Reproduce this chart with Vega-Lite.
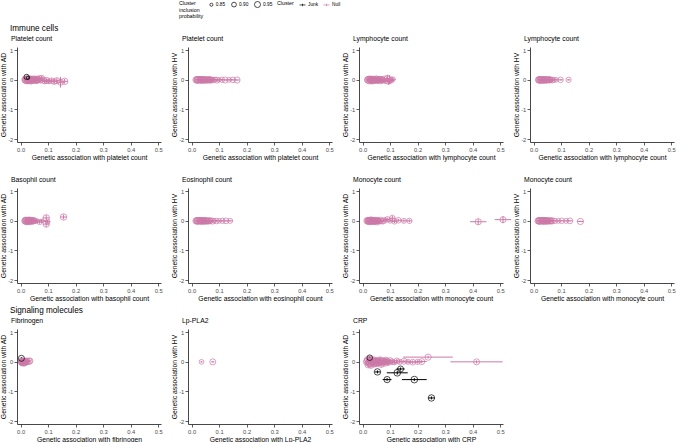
{
"$schema":"https://vega.github.io/schema/vega-lite/v6.json",
"padding":{"left":0,"top":1,"right":1,"bottom":1},
"background":"white",
"data":{"values":[
{"p":"A","x":0.016,"y":0.0,"xe":0.003,"ye":0.03,"s":0.97,"c":"Null"},
{"p":"A","x":0.018,"y":0.03,"xe":0.003,"ye":0.03,"s":0.95,"c":"Null"},
{"p":"A","x":0.020,"y":-0.02,"xe":0.003,"ye":0.03,"s":0.98,"c":"Null"},
{"p":"A","x":0.022,"y":0.02,"xe":0.004,"ye":0.04,"s":0.93,"c":"Null"},
{"p":"A","x":0.025,"y":-0.03,"xe":0.004,"ye":0.03,"s":0.96,"c":"Null"},
{"p":"A","x":0.028,"y":0.01,"xe":0.004,"ye":0.04,"s":0.97,"c":"Null"},
{"p":"A","x":0.031,"y":-0.01,"xe":0.004,"ye":0.04,"s":0.94,"c":"Null"},
{"p":"A","x":0.034,"y":0.04,"xe":0.005,"ye":0.04,"s":0.92,"c":"Null"},
{"p":"A","x":0.037,"y":-0.04,"xe":0.005,"ye":0.04,"s":0.95,"c":"Null"},
{"p":"A","x":0.040,"y":0.01,"xe":0.005,"ye":0.05,"s":0.97,"c":"Null"},
{"p":"A","x":0.044,"y":-0.02,"xe":0.005,"ye":0.04,"s":0.93,"c":"Null"},
{"p":"A","x":0.048,"y":0.03,"xe":0.006,"ye":0.05,"s":0.96,"c":"Null"},
{"p":"A","x":0.052,"y":0.0,"xe":0.006,"ye":0.05,"s":0.91,"c":"Null"},
{"p":"A","x":0.056,"y":-0.03,"xe":0.006,"ye":0.05,"s":0.94,"c":"Null"},
{"p":"A","x":0.060,"y":0.02,"xe":0.007,"ye":0.05,"s":0.97,"c":"Null"},
{"p":"A","x":0.064,"y":-0.01,"xe":0.007,"ye":0.05,"s":0.92,"c":"Null"},
{"p":"A","x":0.068,"y":0.04,"xe":0.007,"ye":0.06,"s":0.95,"c":"Null"},
{"p":"A","x":0.072,"y":-0.03,"xe":0.008,"ye":0.06,"s":0.90,"c":"Null"},
{"p":"A","x":0.077,"y":0.06,"xe":0.008,"ye":0.08,"s":0.93,"c":"Null"},
{"p":"A","x":0.082,"y":-0.01,"xe":0.008,"ye":0.06,"s":0.96,"c":"Null"},
{"p":"A","x":0.088,"y":-0.05,"xe":0.009,"ye":0.07,"s":0.92,"c":"Null"},
{"p":"A","x":0.095,"y":-0.02,"xe":0.009,"ye":0.07,"s":0.95,"c":"Null"},
{"p":"A","x":0.102,"y":-0.05,"xe":0.010,"ye":0.08,"s":0.90,"c":"Null"},
{"p":"A","x":0.112,"y":-0.03,"xe":0.010,"ye":0.08,"s":0.94,"c":"Null"},
{"p":"A","x":0.122,"y":-0.06,"xe":0.011,"ye":0.09,"s":0.93,"c":"Null"},
{"p":"A","x":0.132,"y":-0.03,"xe":0.012,"ye":0.09,"s":0.96,"c":"Null"},
{"p":"A","x":0.145,"y":-0.08,"xe":0.013,"ye":0.18,"s":0.95,"c":"Null"},
{"p":"A","x":0.160,"y":-0.05,"xe":0.012,"ye":0.08,"s":0.97,"c":"Null"},
{"p":"A","x":0.021,"y":0.0,"xe":0.003,"ye":0.03,"s":0.99,"c":"Null"},
{"p":"A","x":0.026,"y":0.02,"xe":0.004,"ye":0.03,"s":0.97,"c":"Null"},
{"p":"A","x":0.029,"y":-0.02,"xe":0.004,"ye":0.03,"s":0.98,"c":"Null"},
{"p":"A","x":0.033,"y":0.0,"xe":0.004,"ye":0.04,"s":0.96,"c":"Null"},
{"p":"A","x":0.036,"y":0.02,"xe":0.005,"ye":0.04,"s":0.97,"c":"Null"},
{"p":"A","x":0.039,"y":-0.02,"xe":0.005,"ye":0.04,"s":0.98,"c":"Null"},
{"p":"A","x":0.042,"y":0.0,"xe":0.005,"ye":0.04,"s":0.96,"c":"Null"},
{"p":"A","x":0.047,"y":-0.01,"xe":0.005,"ye":0.04,"s":0.97,"c":"Null"},
{"p":"A","x":0.051,"y":0.02,"xe":0.006,"ye":0.05,"s":0.95,"c":"Null"},
{"p":"A","x":0.055,"y":0.0,"xe":0.006,"ye":0.05,"s":0.96,"c":"Null"},
{"p":"A","x":0.059,"y":-0.02,"xe":0.006,"ye":0.05,"s":0.94,"c":"Null"},
{"p":"A","x":0.063,"y":0.01,"xe":0.007,"ye":0.05,"s":0.95,"c":"Null"},
{"p":"B","x":0.016,"y":0.0,"xe":0.003,"ye":0.01,"s":0.96,"c":"Null"},
{"p":"B","x":0.019,"y":0.01,"xe":0.003,"ye":0.01,"s":0.93,"c":"Null"},
{"p":"B","x":0.022,"y":-0.01,"xe":0.003,"ye":0.01,"s":0.97,"c":"Null"},
{"p":"B","x":0.025,"y":0.005,"xe":0.004,"ye":0.01,"s":0.95,"c":"Null"},
{"p":"B","x":0.028,"y":-0.005,"xe":0.004,"ye":0.01,"s":0.92,"c":"Null"},
{"p":"B","x":0.031,"y":0.01,"xe":0.004,"ye":0.015,"s":0.96,"c":"Null"},
{"p":"B","x":0.034,"y":-0.01,"xe":0.004,"ye":0.01,"s":0.94,"c":"Null"},
{"p":"B","x":0.037,"y":0.0,"xe":0.005,"ye":0.01,"s":0.98,"c":"Null"},
{"p":"B","x":0.040,"y":0.01,"xe":0.005,"ye":0.015,"s":0.91,"c":"Null"},
{"p":"B","x":0.043,"y":-0.01,"xe":0.005,"ye":0.01,"s":0.95,"c":"Null"},
{"p":"B","x":0.046,"y":0.005,"xe":0.005,"ye":0.015,"s":0.93,"c":"Null"},
{"p":"B","x":0.050,"y":-0.005,"xe":0.006,"ye":0.01,"s":0.97,"c":"Null"},
{"p":"B","x":0.054,"y":0.01,"xe":0.006,"ye":0.015,"s":0.90,"c":"Null"},
{"p":"B","x":0.058,"y":-0.01,"xe":0.006,"ye":0.01,"s":0.94,"c":"Null"},
{"p":"B","x":0.062,"y":0.0,"xe":0.007,"ye":0.015,"s":0.96,"c":"Null"},
{"p":"B","x":0.066,"y":0.01,"xe":0.007,"ye":0.01,"s":0.92,"c":"Null"},
{"p":"B","x":0.070,"y":-0.01,"xe":0.007,"ye":0.015,"s":0.95,"c":"Null"},
{"p":"B","x":0.075,"y":0.005,"xe":0.008,"ye":0.015,"s":0.89,"c":"Null"},
{"p":"B","x":0.080,"y":-0.005,"xe":0.008,"ye":0.015,"s":0.93,"c":"Null"},
{"p":"B","x":0.086,"y":0.01,"xe":0.008,"ye":0.015,"s":0.90,"c":"Null"},
{"p":"B","x":0.092,"y":-0.01,"xe":0.009,"ye":0.015,"s":0.94,"c":"Null"},
{"p":"B","x":0.100,"y":0.0,"xe":0.009,"ye":0.02,"s":0.88,"c":"Null"},
{"p":"B","x":0.110,"y":0.005,"xe":0.010,"ye":0.02,"s":0.92,"c":"Null"},
{"p":"B","x":0.122,"y":-0.005,"xe":0.010,"ye":0.02,"s":0.95,"c":"Null"},
{"p":"B","x":0.136,"y":0.0,"xe":0.011,"ye":0.02,"s":0.90,"c":"Null"},
{"p":"B","x":0.150,"y":0.0,"xe":0.012,"ye":0.02,"s":0.93,"c":"Null"},
{"p":"B","x":0.165,"y":-0.005,"xe":0.010,"ye":0.02,"s":0.96,"c":"Null"},
{"p":"B","x":0.020,"y":0.0,"xe":0.003,"ye":0.01,"s":0.98,"c":"Null"},
{"p":"B","x":0.026,"y":0.0,"xe":0.004,"ye":0.01,"s":0.97,"c":"Null"},
{"p":"B","x":0.032,"y":0.0,"xe":0.004,"ye":0.01,"s":0.98,"c":"Null"},
{"p":"B","x":0.038,"y":0.0,"xe":0.005,"ye":0.01,"s":0.96,"c":"Null"},
{"p":"B","x":0.044,"y":0.0,"xe":0.005,"ye":0.01,"s":0.97,"c":"Null"},
{"p":"B","x":0.049,"y":0.0,"xe":0.005,"ye":0.01,"s":0.95,"c":"Null"},
{"p":"B","x":0.055,"y":0.0,"xe":0.006,"ye":0.01,"s":0.96,"c":"Null"},
{"p":"B","x":0.060,"y":0.0,"xe":0.006,"ye":0.01,"s":0.94,"c":"Null"},
{"p":"B","x":0.067,"y":0.0,"xe":0.007,"ye":0.01,"s":0.95,"c":"Null"},
{"p":"B","x":0.072,"y":0.0,"xe":0.007,"ye":0.01,"s":0.93,"c":"Null"},
{"p":"C","x":0.018,"y":0.0,"xe":0.003,"ye":0.03,"s":0.95,"c":"Null"},
{"p":"C","x":0.021,"y":0.03,"xe":0.003,"ye":0.04,"s":0.93,"c":"Null"},
{"p":"C","x":0.024,"y":-0.03,"xe":0.003,"ye":0.03,"s":0.97,"c":"Null"},
{"p":"C","x":0.027,"y":0.01,"xe":0.004,"ye":0.04,"s":0.94,"c":"Null"},
{"p":"C","x":0.030,"y":-0.02,"xe":0.004,"ye":0.03,"s":0.96,"c":"Null"},
{"p":"C","x":0.033,"y":0.04,"xe":0.004,"ye":0.04,"s":0.92,"c":"Null"},
{"p":"C","x":0.036,"y":-0.04,"xe":0.004,"ye":0.04,"s":0.95,"c":"Null"},
{"p":"C","x":0.039,"y":0.0,"xe":0.005,"ye":0.04,"s":0.97,"c":"Null"},
{"p":"C","x":0.042,"y":0.02,"xe":0.005,"ye":0.05,"s":0.91,"c":"Null"},
{"p":"C","x":0.045,"y":-0.02,"xe":0.005,"ye":0.04,"s":0.94,"c":"Null"},
{"p":"C","x":0.049,"y":0.03,"xe":0.005,"ye":0.05,"s":0.96,"c":"Null"},
{"p":"C","x":0.053,"y":-0.03,"xe":0.006,"ye":0.05,"s":0.92,"c":"Null"},
{"p":"C","x":0.057,"y":0.0,"xe":0.006,"ye":0.05,"s":0.95,"c":"Null"},
{"p":"C","x":0.061,"y":0.04,"xe":0.006,"ye":0.05,"s":0.90,"c":"Null"},
{"p":"C","x":0.065,"y":-0.04,"xe":0.007,"ye":0.05,"s":0.93,"c":"Null"},
{"p":"C","x":0.069,"y":0.01,"xe":0.007,"ye":0.06,"s":0.96,"c":"Null"},
{"p":"C","x":0.074,"y":-0.02,"xe":0.007,"ye":0.06,"s":0.91,"c":"Null"},
{"p":"C","x":0.079,"y":0.03,"xe":0.008,"ye":0.06,"s":0.94,"c":"Null"},
{"p":"C","x":0.084,"y":-0.05,"xe":0.008,"ye":0.07,"s":0.90,"c":"Null"},
{"p":"C","x":0.090,"y":0.05,"xe":0.009,"ye":0.12,"s":0.95,"c":"Null"},
{"p":"C","x":0.094,"y":-0.06,"xe":0.009,"ye":0.10,"s":0.93,"c":"Null"},
{"p":"C","x":0.098,"y":0.01,"xe":0.010,"ye":0.15,"s":0.96,"c":"Null"},
{"p":"C","x":0.104,"y":-0.02,"xe":0.010,"ye":0.08,"s":0.92,"c":"Null"},
{"p":"C","x":0.110,"y":0.02,"xe":0.010,"ye":0.07,"s":0.90,"c":"Null"},
{"p":"C","x":0.020,"y":0.0,"xe":0.003,"ye":0.03,"s":0.98,"c":"Null"},
{"p":"C","x":0.026,"y":0.02,"xe":0.004,"ye":0.03,"s":0.97,"c":"Null"},
{"p":"C","x":0.031,"y":-0.01,"xe":0.004,"ye":0.03,"s":0.98,"c":"Null"},
{"p":"C","x":0.035,"y":0.01,"xe":0.004,"ye":0.04,"s":0.96,"c":"Null"},
{"p":"C","x":0.041,"y":-0.01,"xe":0.005,"ye":0.04,"s":0.97,"c":"Null"},
{"p":"C","x":0.047,"y":0.0,"xe":0.005,"ye":0.04,"s":0.96,"c":"Null"},
{"p":"C","x":0.051,"y":0.01,"xe":0.006,"ye":0.04,"s":0.97,"c":"Null"},
{"p":"C","x":0.055,"y":-0.01,"xe":0.006,"ye":0.05,"s":0.95,"c":"Null"},
{"p":"C","x":0.060,"y":0.0,"xe":0.006,"ye":0.05,"s":0.96,"c":"Null"},
{"p":"C","x":0.066,"y":0.01,"xe":0.007,"ye":0.05,"s":0.94,"c":"Null"},
{"p":"C","x":0.071,"y":-0.01,"xe":0.007,"ye":0.05,"s":0.95,"c":"Null"},
{"p":"D","x":0.018,"y":0.0,"xe":0.003,"ye":0.01,"s":0.95,"c":"Null"},
{"p":"D","x":0.021,"y":0.01,"xe":0.003,"ye":0.01,"s":0.93,"c":"Null"},
{"p":"D","x":0.024,"y":-0.01,"xe":0.003,"ye":0.01,"s":0.97,"c":"Null"},
{"p":"D","x":0.027,"y":0.005,"xe":0.004,"ye":0.01,"s":0.94,"c":"Null"},
{"p":"D","x":0.030,"y":-0.005,"xe":0.004,"ye":0.01,"s":0.96,"c":"Null"},
{"p":"D","x":0.033,"y":0.01,"xe":0.004,"ye":0.015,"s":0.92,"c":"Null"},
{"p":"D","x":0.036,"y":-0.01,"xe":0.004,"ye":0.01,"s":0.95,"c":"Null"},
{"p":"D","x":0.039,"y":0.0,"xe":0.005,"ye":0.01,"s":0.97,"c":"Null"},
{"p":"D","x":0.042,"y":0.01,"xe":0.005,"ye":0.015,"s":0.91,"c":"Null"},
{"p":"D","x":0.046,"y":-0.01,"xe":0.005,"ye":0.01,"s":0.94,"c":"Null"},
{"p":"D","x":0.050,"y":0.005,"xe":0.005,"ye":0.015,"s":0.96,"c":"Null"},
{"p":"D","x":0.054,"y":-0.005,"xe":0.006,"ye":0.015,"s":0.92,"c":"Null"},
{"p":"D","x":0.058,"y":0.0,"xe":0.006,"ye":0.015,"s":0.95,"c":"Null"},
{"p":"D","x":0.063,"y":0.01,"xe":0.006,"ye":0.015,"s":0.90,"c":"Null"},
{"p":"D","x":0.068,"y":-0.01,"xe":0.007,"ye":0.015,"s":0.93,"c":"Null"},
{"p":"D","x":0.074,"y":0.0,"xe":0.007,"ye":0.02,"s":0.91,"c":"Null"},
{"p":"D","x":0.082,"y":0.0,"xe":0.008,"ye":0.02,"s":0.90,"c":"Null"},
{"p":"D","x":0.098,"y":0.0,"xe":0.009,"ye":0.02,"s":0.93,"c":"Null"},
{"p":"D","x":0.127,"y":0.0,"xe":0.006,"ye":0.02,"s":0.92,"c":"Null"},
{"p":"D","x":0.020,"y":0.0,"xe":0.003,"ye":0.01,"s":0.98,"c":"Null"},
{"p":"D","x":0.026,"y":0.0,"xe":0.004,"ye":0.01,"s":0.97,"c":"Null"},
{"p":"D","x":0.032,"y":0.0,"xe":0.004,"ye":0.01,"s":0.98,"c":"Null"},
{"p":"D","x":0.038,"y":0.0,"xe":0.005,"ye":0.01,"s":0.96,"c":"Null"},
{"p":"D","x":0.044,"y":0.0,"xe":0.005,"ye":0.01,"s":0.97,"c":"Null"},
{"p":"D","x":0.048,"y":0.0,"xe":0.005,"ye":0.01,"s":0.95,"c":"Null"},
{"p":"D","x":0.056,"y":0.0,"xe":0.006,"ye":0.01,"s":0.96,"c":"Null"},
{"p":"D","x":0.061,"y":0.0,"xe":0.006,"ye":0.01,"s":0.94,"c":"Null"},
{"p":"E","x":0.016,"y":0.0,"xe":0.003,"ye":0.03,"s":0.97,"c":"Null"},
{"p":"E","x":0.019,"y":0.03,"xe":0.003,"ye":0.03,"s":0.94,"c":"Null"},
{"p":"E","x":0.022,"y":-0.03,"xe":0.003,"ye":0.03,"s":0.96,"c":"Null"},
{"p":"E","x":0.025,"y":0.01,"xe":0.004,"ye":0.03,"s":0.93,"c":"Null"},
{"p":"E","x":0.028,"y":-0.01,"xe":0.004,"ye":0.04,"s":0.97,"c":"Null"},
{"p":"E","x":0.031,"y":0.03,"xe":0.004,"ye":0.04,"s":0.95,"c":"Null"},
{"p":"E","x":0.034,"y":-0.03,"xe":0.004,"ye":0.04,"s":0.92,"c":"Null"},
{"p":"E","x":0.037,"y":0.0,"xe":0.005,"ye":0.04,"s":0.96,"c":"Null"},
{"p":"E","x":0.041,"y":0.02,"xe":0.005,"ye":0.04,"s":0.94,"c":"Null"},
{"p":"E","x":0.045,"y":-0.02,"xe":0.005,"ye":0.05,"s":0.91,"c":"Null"},
{"p":"E","x":0.049,"y":0.01,"xe":0.006,"ye":0.05,"s":0.95,"c":"Null"},
{"p":"E","x":0.054,"y":-0.01,"xe":0.006,"ye":0.05,"s":0.90,"c":"Null"},
{"p":"E","x":0.060,"y":0.0,"xe":0.008,"ye":0.05,"s":0.88,"c":"Null"},
{"p":"E","x":0.069,"y":-0.04,"xe":0.012,"ye":0.06,"s":0.92,"c":"Null"},
{"p":"E","x":0.077,"y":0.0,"xe":0.012,"ye":0.05,"s":0.86,"c":"Null"},
{"p":"E","x":0.093,"y":0.10,"xe":0.012,"ye":0.10,"s":0.97,"c":"Null"},
{"p":"E","x":0.093,"y":-0.11,"xe":0.012,"ye":0.10,"s":0.96,"c":"Null"},
{"p":"E","x":0.098,"y":-0.03,"xe":0.010,"ye":0.06,"s":0.90,"c":"Null"},
{"p":"E","x":0.156,"y":0.13,"xe":0.012,"ye":0.08,"s":0.97,"c":"Null"},
{"p":"E","x":0.018,"y":0.0,"xe":0.003,"ye":0.03,"s":0.98,"c":"Null"},
{"p":"E","x":0.021,"y":0.01,"xe":0.003,"ye":0.03,"s":0.97,"c":"Null"},
{"p":"E","x":0.024,"y":-0.01,"xe":0.003,"ye":0.03,"s":0.98,"c":"Null"},
{"p":"E","x":0.027,"y":0.0,"xe":0.004,"ye":0.03,"s":0.96,"c":"Null"},
{"p":"E","x":0.030,"y":0.01,"xe":0.004,"ye":0.03,"s":0.97,"c":"Null"},
{"p":"E","x":0.033,"y":-0.01,"xe":0.004,"ye":0.04,"s":0.96,"c":"Null"},
{"p":"E","x":0.036,"y":0.01,"xe":0.004,"ye":0.04,"s":0.97,"c":"Null"},
{"p":"E","x":0.040,"y":0.0,"xe":0.005,"ye":0.04,"s":0.95,"c":"Null"},
{"p":"E","x":0.043,"y":-0.01,"xe":0.005,"ye":0.04,"s":0.96,"c":"Null"},
{"p":"E","x":0.047,"y":0.0,"xe":0.005,"ye":0.04,"s":0.94,"c":"Null"},
{"p":"F","x":0.016,"y":0.0,"xe":0.003,"ye":0.01,"s":0.96,"c":"Null"},
{"p":"F","x":0.019,"y":0.01,"xe":0.003,"ye":0.01,"s":0.93,"c":"Null"},
{"p":"F","x":0.022,"y":-0.01,"xe":0.003,"ye":0.01,"s":0.97,"c":"Null"},
{"p":"F","x":0.025,"y":0.005,"xe":0.004,"ye":0.01,"s":0.95,"c":"Null"},
{"p":"F","x":0.028,"y":-0.005,"xe":0.004,"ye":0.01,"s":0.92,"c":"Null"},
{"p":"F","x":0.031,"y":0.01,"xe":0.004,"ye":0.015,"s":0.96,"c":"Null"},
{"p":"F","x":0.034,"y":-0.01,"xe":0.004,"ye":0.01,"s":0.94,"c":"Null"},
{"p":"F","x":0.037,"y":0.0,"xe":0.005,"ye":0.01,"s":0.98,"c":"Null"},
{"p":"F","x":0.040,"y":0.01,"xe":0.005,"ye":0.015,"s":0.91,"c":"Null"},
{"p":"F","x":0.044,"y":-0.01,"xe":0.005,"ye":0.01,"s":0.95,"c":"Null"},
{"p":"F","x":0.048,"y":0.005,"xe":0.005,"ye":0.015,"s":0.93,"c":"Null"},
{"p":"F","x":0.052,"y":-0.005,"xe":0.006,"ye":0.01,"s":0.97,"c":"Null"},
{"p":"F","x":0.056,"y":0.01,"xe":0.006,"ye":0.015,"s":0.90,"c":"Null"},
{"p":"F","x":0.060,"y":-0.01,"xe":0.006,"ye":0.01,"s":0.94,"c":"Null"},
{"p":"F","x":0.065,"y":0.0,"xe":0.007,"ye":0.015,"s":0.96,"c":"Null"},
{"p":"F","x":0.070,"y":0.01,"xe":0.007,"ye":0.01,"s":0.92,"c":"Null"},
{"p":"F","x":0.076,"y":-0.01,"xe":0.007,"ye":0.015,"s":0.95,"c":"Null"},
{"p":"F","x":0.082,"y":0.005,"xe":0.008,"ye":0.015,"s":0.89,"c":"Null"},
{"p":"F","x":0.090,"y":-0.005,"xe":0.008,"ye":0.015,"s":0.93,"c":"Null"},
{"p":"F","x":0.100,"y":0.0,"xe":0.009,"ye":0.02,"s":0.90,"c":"Null"},
{"p":"F","x":0.112,"y":0.0,"xe":0.010,"ye":0.02,"s":0.92,"c":"Null"},
{"p":"F","x":0.125,"y":0.0,"xe":0.010,"ye":0.02,"s":0.94,"c":"Null"},
{"p":"F","x":0.140,"y":0.0,"xe":0.010,"ye":0.02,"s":0.91,"c":"Null"},
{"p":"F","x":0.020,"y":0.0,"xe":0.003,"ye":0.01,"s":0.98,"c":"Null"},
{"p":"F","x":0.026,"y":0.0,"xe":0.004,"ye":0.01,"s":0.97,"c":"Null"},
{"p":"F","x":0.032,"y":0.0,"xe":0.004,"ye":0.01,"s":0.98,"c":"Null"},
{"p":"F","x":0.038,"y":0.0,"xe":0.005,"ye":0.01,"s":0.96,"c":"Null"},
{"p":"F","x":0.042,"y":0.0,"xe":0.005,"ye":0.01,"s":0.97,"c":"Null"},
{"p":"F","x":0.046,"y":0.0,"xe":0.005,"ye":0.01,"s":0.95,"c":"Null"},
{"p":"F","x":0.050,"y":0.0,"xe":0.006,"ye":0.01,"s":0.96,"c":"Null"},
{"p":"F","x":0.054,"y":0.0,"xe":0.006,"ye":0.01,"s":0.94,"c":"Null"},
{"p":"F","x":0.058,"y":0.0,"xe":0.006,"ye":0.01,"s":0.95,"c":"Null"},
{"p":"F","x":0.063,"y":0.0,"xe":0.007,"ye":0.01,"s":0.93,"c":"Null"},
{"p":"G","x":0.016,"y":0.0,"xe":0.003,"ye":0.03,"s":0.96,"c":"Null"},
{"p":"G","x":0.019,"y":0.02,"xe":0.003,"ye":0.03,"s":0.93,"c":"Null"},
{"p":"G","x":0.022,"y":-0.02,"xe":0.003,"ye":0.03,"s":0.97,"c":"Null"},
{"p":"G","x":0.025,"y":0.01,"xe":0.004,"ye":0.03,"s":0.95,"c":"Null"},
{"p":"G","x":0.028,"y":-0.03,"xe":0.004,"ye":0.04,"s":0.92,"c":"Null"},
{"p":"G","x":0.031,"y":0.03,"xe":0.004,"ye":0.04,"s":0.96,"c":"Null"},
{"p":"G","x":0.034,"y":-0.01,"xe":0.004,"ye":0.04,"s":0.94,"c":"Null"},
{"p":"G","x":0.037,"y":0.0,"xe":0.005,"ye":0.04,"s":0.98,"c":"Null"},
{"p":"G","x":0.040,"y":0.02,"xe":0.005,"ye":0.04,"s":0.91,"c":"Null"},
{"p":"G","x":0.044,"y":-0.02,"xe":0.005,"ye":0.04,"s":0.95,"c":"Null"},
{"p":"G","x":0.048,"y":0.03,"xe":0.005,"ye":0.05,"s":0.93,"c":"Null"},
{"p":"G","x":0.052,"y":-0.03,"xe":0.006,"ye":0.05,"s":0.97,"c":"Null"},
{"p":"G","x":0.056,"y":0.01,"xe":0.006,"ye":0.05,"s":0.90,"c":"Null"},
{"p":"G","x":0.060,"y":-0.01,"xe":0.006,"ye":0.05,"s":0.94,"c":"Null"},
{"p":"G","x":0.065,"y":0.02,"xe":0.007,"ye":0.05,"s":0.96,"c":"Null"},
{"p":"G","x":0.070,"y":-0.02,"xe":0.007,"ye":0.05,"s":0.92,"c":"Null"},
{"p":"G","x":0.076,"y":0.0,"xe":0.007,"ye":0.05,"s":0.95,"c":"Null"},
{"p":"G","x":0.082,"y":0.03,"xe":0.008,"ye":0.06,"s":0.89,"c":"Null"},
{"p":"G","x":0.090,"y":0.05,"xe":0.008,"ye":0.06,"s":0.93,"c":"Null"},
{"p":"G","x":0.100,"y":0.0,"xe":0.009,"ye":0.05,"s":0.90,"c":"Null"},
{"p":"G","x":0.108,"y":0.09,"xe":0.010,"ye":0.08,"s":0.94,"c":"Null"},
{"p":"G","x":0.116,"y":-0.02,"xe":0.010,"ye":0.06,"s":0.92,"c":"Null"},
{"p":"G","x":0.130,"y":0.02,"xe":0.010,"ye":0.05,"s":0.93,"c":"Null"},
{"p":"G","x":0.150,"y":0.0,"xe":0.012,"ye":0.05,"s":0.91,"c":"Null"},
{"p":"G","x":0.170,"y":0.0,"xe":0.010,"ye":0.05,"s":0.92,"c":"Null"},
{"p":"G","x":0.420,"y":-0.03,"xe":0.030,"ye":0.10,"s":0.96,"c":"Null"},
{"p":"G","x":0.510,"y":0.04,"xe":0.030,"ye":0.12,"s":0.95,"c":"Null"},
{"p":"G","x":0.020,"y":0.0,"xe":0.003,"ye":0.03,"s":0.98,"c":"Null"},
{"p":"G","x":0.024,"y":0.01,"xe":0.003,"ye":0.03,"s":0.97,"c":"Null"},
{"p":"G","x":0.027,"y":-0.01,"xe":0.004,"ye":0.03,"s":0.98,"c":"Null"},
{"p":"G","x":0.030,"y":0.0,"xe":0.004,"ye":0.03,"s":0.96,"c":"Null"},
{"p":"G","x":0.033,"y":0.01,"xe":0.004,"ye":0.04,"s":0.97,"c":"Null"},
{"p":"G","x":0.036,"y":-0.01,"xe":0.004,"ye":0.04,"s":0.96,"c":"Null"},
{"p":"G","x":0.039,"y":0.0,"xe":0.005,"ye":0.04,"s":0.97,"c":"Null"},
{"p":"G","x":0.042,"y":0.01,"xe":0.005,"ye":0.04,"s":0.95,"c":"Null"},
{"p":"G","x":0.046,"y":-0.01,"xe":0.005,"ye":0.04,"s":0.96,"c":"Null"},
{"p":"G","x":0.050,"y":0.0,"xe":0.006,"ye":0.04,"s":0.94,"c":"Null"},
{"p":"G","x":0.054,"y":0.01,"xe":0.006,"ye":0.05,"s":0.95,"c":"Null"},
{"p":"G","x":0.058,"y":0.0,"xe":0.006,"ye":0.05,"s":0.93,"c":"Null"},
{"p":"H","x":0.016,"y":0.0,"xe":0.003,"ye":0.01,"s":0.96,"c":"Null"},
{"p":"H","x":0.019,"y":0.01,"xe":0.003,"ye":0.01,"s":0.93,"c":"Null"},
{"p":"H","x":0.022,"y":-0.01,"xe":0.003,"ye":0.01,"s":0.97,"c":"Null"},
{"p":"H","x":0.025,"y":0.005,"xe":0.004,"ye":0.01,"s":0.95,"c":"Null"},
{"p":"H","x":0.028,"y":-0.005,"xe":0.004,"ye":0.01,"s":0.92,"c":"Null"},
{"p":"H","x":0.031,"y":0.01,"xe":0.004,"ye":0.015,"s":0.96,"c":"Null"},
{"p":"H","x":0.034,"y":-0.01,"xe":0.004,"ye":0.01,"s":0.94,"c":"Null"},
{"p":"H","x":0.037,"y":0.0,"xe":0.005,"ye":0.01,"s":0.98,"c":"Null"},
{"p":"H","x":0.040,"y":0.01,"xe":0.005,"ye":0.015,"s":0.91,"c":"Null"},
{"p":"H","x":0.044,"y":-0.01,"xe":0.005,"ye":0.01,"s":0.95,"c":"Null"},
{"p":"H","x":0.048,"y":0.005,"xe":0.005,"ye":0.015,"s":0.93,"c":"Null"},
{"p":"H","x":0.052,"y":-0.005,"xe":0.006,"ye":0.01,"s":0.97,"c":"Null"},
{"p":"H","x":0.057,"y":0.01,"xe":0.006,"ye":0.015,"s":0.90,"c":"Null"},
{"p":"H","x":0.062,"y":-0.01,"xe":0.006,"ye":0.01,"s":0.94,"c":"Null"},
{"p":"H","x":0.068,"y":0.0,"xe":0.007,"ye":0.015,"s":0.96,"c":"Null"},
{"p":"H","x":0.078,"y":0.0,"xe":0.007,"ye":0.015,"s":0.92,"c":"Null"},
{"p":"H","x":0.090,"y":0.0,"xe":0.008,"ye":0.02,"s":0.90,"c":"Null"},
{"p":"H","x":0.102,"y":0.0,"xe":0.009,"ye":0.02,"s":0.93,"c":"Null"},
{"p":"H","x":0.118,"y":0.0,"xe":0.010,"ye":0.02,"s":0.91,"c":"Null"},
{"p":"H","x":0.132,"y":0.0,"xe":0.010,"ye":0.02,"s":0.94,"c":"Null"},
{"p":"H","x":0.170,"y":-0.02,"xe":0.012,"ye":0.02,"s":0.96,"c":"Null"},
{"p":"H","x":0.020,"y":0.0,"xe":0.003,"ye":0.01,"s":0.98,"c":"Null"},
{"p":"H","x":0.026,"y":0.0,"xe":0.004,"ye":0.01,"s":0.97,"c":"Null"},
{"p":"H","x":0.032,"y":0.0,"xe":0.004,"ye":0.01,"s":0.98,"c":"Null"},
{"p":"H","x":0.038,"y":0.0,"xe":0.005,"ye":0.01,"s":0.96,"c":"Null"},
{"p":"H","x":0.042,"y":0.0,"xe":0.005,"ye":0.01,"s":0.97,"c":"Null"},
{"p":"H","x":0.046,"y":0.0,"xe":0.005,"ye":0.01,"s":0.95,"c":"Null"},
{"p":"H","x":0.050,"y":0.0,"xe":0.006,"ye":0.01,"s":0.96,"c":"Null"},
{"p":"H","x":0.055,"y":0.0,"xe":0.006,"ye":0.01,"s":0.94,"c":"Null"},
{"p":"H","x":0.060,"y":0.0,"xe":0.006,"ye":0.01,"s":0.95,"c":"Null"},
{"p":"H","x":0.065,"y":0.0,"xe":0.007,"ye":0.01,"s":0.93,"c":"Null"},
{"p":"I","x":0.003,"y":0.0,"xe":0.002,"ye":0.03,"s":0.95,"c":"Null"},
{"p":"I","x":0.005,"y":-0.03,"xe":0.002,"ye":0.03,"s":0.97,"c":"Null"},
{"p":"I","x":0.007,"y":0.03,"xe":0.002,"ye":0.03,"s":0.93,"c":"Null"},
{"p":"I","x":0.009,"y":-0.01,"xe":0.003,"ye":0.04,"s":0.96,"c":"Null"},
{"p":"I","x":0.011,"y":0.02,"xe":0.003,"ye":0.04,"s":0.94,"c":"Null"},
{"p":"I","x":0.013,"y":-0.04,"xe":0.003,"ye":0.04,"s":0.97,"c":"Null"},
{"p":"I","x":0.015,"y":0.01,"xe":0.003,"ye":0.04,"s":0.95,"c":"Null"},
{"p":"I","x":0.018,"y":-0.02,"xe":0.004,"ye":0.04,"s":0.92,"c":"Null"},
{"p":"I","x":0.021,"y":0.03,"xe":0.004,"ye":0.05,"s":0.96,"c":"Null"},
{"p":"I","x":0.025,"y":0.0,"xe":0.004,"ye":0.05,"s":0.93,"c":"Null"},
{"p":"I","x":0.030,"y":0.02,"xe":0.005,"ye":0.05,"s":0.97,"c":"Null"},
{"p":"I","x":0.034,"y":0.03,"xe":0.005,"ye":0.05,"s":0.95,"c":"Null"},
{"p":"I","x":0.004,"y":0.02,"xe":0.002,"ye":0.03,"s":0.98,"c":"Null"},
{"p":"I","x":0.006,"y":-0.01,"xe":0.002,"ye":0.03,"s":0.97,"c":"Null"},
{"p":"I","x":0.008,"y":0.01,"xe":0.003,"ye":0.03,"s":0.98,"c":"Null"},
{"p":"I","x":0.010,"y":-0.02,"xe":0.003,"ye":0.03,"s":0.96,"c":"Null"},
{"p":"I","x":0.012,"y":0.0,"xe":0.003,"ye":0.04,"s":0.97,"c":"Null"},
{"p":"I","x":0.014,"y":0.02,"xe":0.003,"ye":0.04,"s":0.95,"c":"Null"},
{"p":"I","x":0.017,"y":0.0,"xe":0.004,"ye":0.04,"s":0.96,"c":"Null"},
{"p":"I","x":0.020,"y":-0.01,"xe":0.004,"ye":0.04,"s":0.94,"c":"Null"},
{"p":"J","x":0.036,"y":0.0,"xe":0.004,"ye":0.02,"s":0.90,"c":"Null"},
{"p":"J","x":0.077,"y":0.0,"xe":0.006,"ye":0.02,"s":0.95,"c":"Null"},
{"p":"K","x":0.015,"y":0.0,"xe":0.003,"ye":0.05,"s":0.97,"c":"Null"},
{"p":"K","x":0.018,"y":0.08,"xe":0.003,"ye":0.05,"s":0.95,"c":"Null"},
{"p":"K","x":0.020,"y":-0.10,"xe":0.003,"ye":0.05,"s":0.96,"c":"Null"},
{"p":"K","x":0.022,"y":0.04,"xe":0.004,"ye":0.05,"s":0.93,"c":"Null"},
{"p":"K","x":0.025,"y":-0.05,"xe":0.004,"ye":0.05,"s":0.97,"c":"Null"},
{"p":"K","x":0.028,"y":0.10,"xe":0.004,"ye":0.06,"s":0.94,"c":"Null"},
{"p":"K","x":0.030,"y":-0.12,"xe":0.004,"ye":0.06,"s":0.95,"c":"Null"},
{"p":"K","x":0.033,"y":0.02,"xe":0.004,"ye":0.05,"s":0.97,"c":"Null"},
{"p":"K","x":0.036,"y":-0.03,"xe":0.005,"ye":0.05,"s":0.92,"c":"Null"},
{"p":"K","x":0.039,"y":0.07,"xe":0.005,"ye":0.06,"s":0.96,"c":"Null"},
{"p":"K","x":0.042,"y":-0.08,"xe":0.005,"ye":0.06,"s":0.94,"c":"Null"},
{"p":"K","x":0.045,"y":0.0,"xe":0.005,"ye":0.05,"s":0.97,"c":"Null"},
{"p":"K","x":0.048,"y":0.05,"xe":0.006,"ye":0.06,"s":0.91,"c":"Null"},
{"p":"K","x":0.052,"y":-0.06,"xe":0.006,"ye":0.06,"s":0.95,"c":"Null"},
{"p":"K","x":0.056,"y":0.03,"xe":0.006,"ye":0.06,"s":0.93,"c":"Null"},
{"p":"K","x":0.060,"y":-0.02,"xe":0.007,"ye":0.06,"s":0.96,"c":"Null"},
{"p":"K","x":0.064,"y":0.08,"xe":0.007,"ye":0.07,"s":0.92,"c":"Null"},
{"p":"K","x":0.068,"y":-0.09,"xe":0.007,"ye":0.07,"s":0.95,"c":"Null"},
{"p":"K","x":0.072,"y":0.01,"xe":0.008,"ye":0.06,"s":0.97,"c":"Null"},
{"p":"K","x":0.077,"y":0.05,"xe":0.008,"ye":0.07,"s":0.91,"c":"Null"},
{"p":"K","x":0.082,"y":-0.05,"xe":0.008,"ye":0.07,"s":0.94,"c":"Null"},
{"p":"K","x":0.088,"y":0.02,"xe":0.009,"ye":0.07,"s":0.96,"c":"Null"},
{"p":"K","x":0.094,"y":-0.03,"xe":0.009,"ye":0.07,"s":0.92,"c":"Null"},
{"p":"K","x":0.100,"y":0.04,"xe":0.010,"ye":0.07,"s":0.95,"c":"Null"},
{"p":"K","x":0.107,"y":0.0,"xe":0.010,"ye":0.07,"s":0.93,"c":"Null"},
{"p":"K","x":0.115,"y":-0.02,"xe":0.011,"ye":0.07,"s":0.90,"c":"Null"},
{"p":"K","x":0.124,"y":0.03,"xe":0.012,"ye":0.07,"s":0.94,"c":"Null"},
{"p":"K","x":0.135,"y":0.0,"xe":0.013,"ye":0.06,"s":0.92,"c":"Null"},
{"p":"K","x":0.150,"y":0.02,"xe":0.014,"ye":0.06,"s":0.95,"c":"Null"},
{"p":"K","x":0.165,"y":0.0,"xe":0.015,"ye":0.06,"s":0.91,"c":"Null"},
{"p":"K","x":0.182,"y":-0.01,"xe":0.016,"ye":0.06,"s":0.94,"c":"Null"},
{"p":"K","x":0.200,"y":0.0,"xe":0.016,"ye":0.06,"s":0.92,"c":"Null"},
{"p":"K","x":0.215,"y":0.01,"xe":0.018,"ye":0.06,"s":0.95,"c":"Null"},
{"p":"K","x":0.238,"y":0.16,"xe":0.090,"ye":0.05,"s":0.96,"c":"Null"},
{"p":"K","x":0.414,"y":0.0,"xe":0.095,"ye":0.05,"s":0.95,"c":"Null"},
{"p":"K","x":0.017,"y":0.03,"xe":0.003,"ye":0.05,"s":0.98,"c":"Null"},
{"p":"K","x":0.021,"y":-0.04,"xe":0.003,"ye":0.05,"s":0.97,"c":"Null"},
{"p":"K","x":0.024,"y":0.0,"xe":0.004,"ye":0.05,"s":0.98,"c":"Null"},
{"p":"K","x":0.027,"y":0.06,"xe":0.004,"ye":0.05,"s":0.96,"c":"Null"},
{"p":"K","x":0.031,"y":-0.07,"xe":0.004,"ye":0.05,"s":0.97,"c":"Null"},
{"p":"K","x":0.035,"y":0.04,"xe":0.005,"ye":0.05,"s":0.96,"c":"Null"},
{"p":"K","x":0.038,"y":-0.01,"xe":0.005,"ye":0.05,"s":0.98,"c":"Null"},
{"p":"K","x":0.041,"y":0.03,"xe":0.005,"ye":0.05,"s":0.95,"c":"Null"},
{"p":"K","x":0.044,"y":-0.05,"xe":0.005,"ye":0.06,"s":0.96,"c":"Null"},
{"p":"K","x":0.047,"y":0.01,"xe":0.006,"ye":0.06,"s":0.97,"c":"Null"},
{"p":"K","x":0.050,"y":-0.02,"xe":0.006,"ye":0.06,"s":0.95,"c":"Null"},
{"p":"K","x":0.054,"y":0.05,"xe":0.006,"ye":0.06,"s":0.96,"c":"Null"},
{"p":"K","x":0.058,"y":-0.04,"xe":0.006,"ye":0.06,"s":0.94,"c":"Null"},
{"p":"K","x":0.062,"y":0.0,"xe":0.007,"ye":0.06,"s":0.96,"c":"Null"},
{"p":"K","x":0.066,"y":0.04,"xe":0.007,"ye":0.06,"s":0.95,"c":"Null"},
{"p":"K","x":0.070,"y":-0.05,"xe":0.007,"ye":0.06,"s":0.94,"c":"Null"},
{"p":"K","x":0.075,"y":0.02,"xe":0.008,"ye":0.06,"s":0.95,"c":"Null"},
{"p":"K","x":0.080,"y":-0.02,"xe":0.008,"ye":0.06,"s":0.93,"c":"Null"},
{"p":"K","x":0.085,"y":0.06,"xe":0.009,"ye":0.07,"s":0.94,"c":"Null"},
{"p":"K","x":0.091,"y":-0.01,"xe":0.009,"ye":0.07,"s":0.93,"c":"Null"},
{"p":"A","x":0.022,"y":0.10,"xe":0.003,"ye":0.04,"s":0.92,"c":"Junk"},
{"p":"A","x":0.027,"y":0.07,"xe":0.003,"ye":0.03,"s":0.86,"c":"Junk"},
{"p":"I","x":0.003,"y":0.12,"xe":0.003,"ye":0.04,"s":0.95,"c":"Junk"},
{"p":"K","x":0.026,"y":0.14,"xe":0.004,"ye":0.05,"s":0.93,"c":"Junk"},
{"p":"K","x":0.054,"y":-0.34,"xe":0.010,"ye":0.05,"s":0.97,"c":"Junk"},
{"p":"K","x":0.089,"y":-0.60,"xe":0.016,"ye":0.05,"s":0.96,"c":"Junk"},
{"p":"K","x":0.126,"y":-0.37,"xe":0.038,"ye":0.06,"s":0.98,"c":"Junk"},
{"p":"K","x":0.138,"y":-0.24,"xe":0.015,"ye":0.05,"s":0.95,"c":"Junk"},
{"p":"K","x":0.188,"y":-0.60,"xe":0.045,"ye":0.05,"s":0.98,"c":"Junk"},
{"p":"K","x":0.250,"y":-1.22,"xe":0.012,"ye":0.05,"s":0.97,"c":"Junk"}
]},
"config":{
 "font":"Liberation Sans",
 "view":{"stroke":null},
 "range":{"category":["#000000","#CC79A7"]},
 "axis":{"grid":false,"domainColor":"#333333","domainWidth":0.9,"tickColor":"#333333","tickWidth":0.8,"tickSize":3,"labelFontSize":5.8,"labelColor":"#4d4d4d","labelPadding":1.2,"titleFontSize":6.8,"titleFontWeight":"normal","titleColor":"#000000","titlePadding":2},
 "axisX":{"tickCount":6},
 "axisY":{"tickCount":4,"titlePadding":1.5,"labelExpr":"replace(datum.label, '\u2212', '-')"},
 "title":{"fontSize":6.8,"fontWeight":"normal","anchor":"start","frame":"group","offset":4,"color":"#000000"},
 "legend":{"labelFont":"Liberation Sans","titleFont":"Liberation Sans"},
 "errorbar":{"thickness":0.8,"ticks":false},
 "point":{"filled":false,"strokeWidth":0.7,"opacity":1}
},
"resolve":{"scale":{"color":"shared","size":"shared"},"legend":{"color":"shared","size":"shared"}},
"bounds":"flush",
"spacing":141,
"vconcat":[
 {"title":{"text":"Immune cells","fontSize":8.2,"dx":-7,"offset":3},"bounds":"flush","spacing":27,"hconcat":[
  {"width":144,"height":95,"title":{"text":"Platelet count","dx":-6},"transform":[{"filter":"datum.p==='A'"}],
   "encoding":{"x":{"field":"x","type":"quantitative","scale":{"domain":[-0.013,0.51],"nice":false},"axis":{"title":"Genetic association with platelet count"}},
    "y":{"field":"y","type":"quantitative","scale":{"domain":[-2.1,1.11],"nice":false},"axis":{"title":"Genetic association with AD"}},
    "color":{"field":"c","type":"nominal","legend":{"title":"Cluster","orient":"none","legendX":260,"legendY":-46,"direction":"horizontal","titleOrient":"left","titleAnchor":"start","titleBaseline":"top","symbolType":"M-1,0H1M0,-0.4V0.4","symbolStrokeWidth":1,"symbolSize":36,"labelFontSize":4.8,"titleFontSize":5.3,"titleFontWeight":"normal","titlePadding":5,"columnPadding":3,"labelOffset":2}}},
   "layer":[{"mark":"errorbar","encoding":{"xError":{"field":"xe"}}},{"mark":"errorbar","encoding":{"yError":{"field":"ye"}}},
    {"mark":"point","encoding":{"size":{"field":"s","type":"quantitative","scale":{"domain":[0.82,1],"range":[1,50]},"legend":{"title":["Cluster","inclusion","probability"],"orient":"none","legendX":162,"legendY":-46,"direction":"horizontal","titleOrient":"left","titleAnchor":"start","titleBaseline":"top","values":[0.85,0.9,0.95],"format":".2f","symbolStrokeColor":"#000000","symbolFillColor":"transparent","symbolStrokeWidth":0.6,"labelFontSize":4.8,"titleFontSize":5.3,"titleFontWeight":"normal","titleLineHeight":6.5,"titlePadding":5,"columnPadding":4,"labelOffset":2}}}}]},
  {"width":144,"height":95,"title":{"text":"Platelet count","dx":-6},"transform":[{"filter":"datum.p==='B'"}],
   "encoding":{"x":{"field":"x","type":"quantitative","scale":{"domain":[-0.013,0.51],"nice":false},"axis":{"title":"Genetic association with platelet count"}},
    "y":{"field":"y","type":"quantitative","scale":{"domain":[-2.1,1.11],"nice":false},"axis":{"title":"Genetic association with HV"}},
    "color":{"field":"c","type":"nominal"}},
   "layer":[{"mark":"errorbar","encoding":{"xError":{"field":"xe"}}},{"mark":"errorbar","encoding":{"yError":{"field":"ye"}}},
    {"mark":"point","encoding":{"size":{"field":"s","type":"quantitative","scale":{"domain":[0.82,1],"range":[1,50]}}}}]},
  {"width":144,"height":95,"title":{"text":"Lymphocyte count","dx":-6},"transform":[{"filter":"datum.p==='C'"}],
   "encoding":{"x":{"field":"x","type":"quantitative","scale":{"domain":[-0.013,0.51],"nice":false},"axis":{"title":"Genetic association with lymphocyte count"}},
    "y":{"field":"y","type":"quantitative","scale":{"domain":[-2.1,1.11],"nice":false},"axis":{"title":"Genetic association with AD"}},
    "color":{"field":"c","type":"nominal"}},
   "layer":[{"mark":"errorbar","encoding":{"xError":{"field":"xe"}}},{"mark":"errorbar","encoding":{"yError":{"field":"ye"}}},
    {"mark":"point","encoding":{"size":{"field":"s","type":"quantitative","scale":{"domain":[0.82,1],"range":[1,50]}}}}]},
  {"width":144,"height":95,"title":{"text":"Lymphocyte count","dx":-6},"transform":[{"filter":"datum.p==='D'"}],
   "encoding":{"x":{"field":"x","type":"quantitative","scale":{"domain":[-0.013,0.51],"nice":false},"axis":{"title":"Genetic association with lymphocyte count"}},
    "y":{"field":"y","type":"quantitative","scale":{"domain":[-2.1,1.11],"nice":false},"axis":{"title":"Genetic association with HV"}},
    "color":{"field":"c","type":"nominal"}},
   "layer":[{"mark":"errorbar","encoding":{"xError":{"field":"xe"}}},{"mark":"errorbar","encoding":{"yError":{"field":"ye"}}},
    {"mark":"point","encoding":{"size":{"field":"s","type":"quantitative","scale":{"domain":[0.82,1],"range":[1,50]}}}}]}
 ]},
 {"bounds":"flush","spacing":27,"hconcat":[
  {"width":144,"height":95,"title":{"text":"Basophil count","dx":-6},"transform":[{"filter":"datum.p==='E'"}],
   "encoding":{"x":{"field":"x","type":"quantitative","scale":{"domain":[-0.013,0.51],"nice":false},"axis":{"title":"Genetic association with basophil count"}},
    "y":{"field":"y","type":"quantitative","scale":{"domain":[-2.1,1.11],"nice":false},"axis":{"title":"Genetic association with AD"}},
    "color":{"field":"c","type":"nominal"}},
   "layer":[{"mark":"errorbar","encoding":{"xError":{"field":"xe"}}},{"mark":"errorbar","encoding":{"yError":{"field":"ye"}}},
    {"mark":"point","encoding":{"size":{"field":"s","type":"quantitative","scale":{"domain":[0.82,1],"range":[1,50]}}}}]},
  {"width":144,"height":95,"title":{"text":"Eosinophil count","dx":-6},"transform":[{"filter":"datum.p==='F'"}],
   "encoding":{"x":{"field":"x","type":"quantitative","scale":{"domain":[-0.013,0.51],"nice":false},"axis":{"title":"Genetic association with eosinophil count"}},
    "y":{"field":"y","type":"quantitative","scale":{"domain":[-2.1,1.11],"nice":false},"axis":{"title":"Genetic association with HV"}},
    "color":{"field":"c","type":"nominal"}},
   "layer":[{"mark":"errorbar","encoding":{"xError":{"field":"xe"}}},{"mark":"errorbar","encoding":{"yError":{"field":"ye"}}},
    {"mark":"point","encoding":{"size":{"field":"s","type":"quantitative","scale":{"domain":[0.82,1],"range":[1,50]}}}}]},
  {"width":144,"height":95,"title":{"text":"Monocyte count","dx":-6},"transform":[{"filter":"datum.p==='G'"}],
   "encoding":{"x":{"field":"x","type":"quantitative","scale":{"domain":[-0.013,0.51],"nice":false},"axis":{"title":"Genetic association with monocyte count"}},
    "y":{"field":"y","type":"quantitative","scale":{"domain":[-2.1,1.11],"nice":false},"axis":{"title":"Genetic association with AD"}},
    "color":{"field":"c","type":"nominal"}},
   "layer":[{"mark":"errorbar","encoding":{"xError":{"field":"xe"}}},{"mark":"errorbar","encoding":{"yError":{"field":"ye"}}},
    {"mark":"point","encoding":{"size":{"field":"s","type":"quantitative","scale":{"domain":[0.82,1],"range":[1,50]}}}}]},
  {"width":144,"height":95,"title":{"text":"Monocyte count","dx":-6},"transform":[{"filter":"datum.p==='H'"}],
   "encoding":{"x":{"field":"x","type":"quantitative","scale":{"domain":[-0.013,0.51],"nice":false},"axis":{"title":"Genetic association with monocyte count"}},
    "y":{"field":"y","type":"quantitative","scale":{"domain":[-2.1,1.11],"nice":false},"axis":{"title":"Genetic association with HV"}},
    "color":{"field":"c","type":"nominal"}},
   "layer":[{"mark":"errorbar","encoding":{"xError":{"field":"xe"}}},{"mark":"errorbar","encoding":{"yError":{"field":"ye"}}},
    {"mark":"point","encoding":{"size":{"field":"s","type":"quantitative","scale":{"domain":[0.82,1],"range":[1,50]}}}}]}
 ]},
 {"title":{"text":"Signaling molecules","fontSize":8.2,"dx":-7,"offset":3},"bounds":"flush","spacing":27,"hconcat":[
  {"width":144,"height":95,"title":{"text":"Fibrinogen","dx":-6},"transform":[{"filter":"datum.p==='I'"}],
   "encoding":{"x":{"field":"x","type":"quantitative","scale":{"domain":[-0.013,0.51],"nice":false},"axis":{"title":"Genetic association with fibrinogen"}},
    "y":{"field":"y","type":"quantitative","scale":{"domain":[-2.1,1.11],"nice":false},"axis":{"title":"Genetic association with AD"}},
    "color":{"field":"c","type":"nominal"}},
   "layer":[{"mark":"errorbar","encoding":{"xError":{"field":"xe"}}},{"mark":"errorbar","encoding":{"yError":{"field":"ye"}}},
    {"mark":"point","encoding":{"size":{"field":"s","type":"quantitative","scale":{"domain":[0.82,1],"range":[1,50]}}}}]},
  {"width":144,"height":95,"title":{"text":"Lp-PLA2","dx":-6},"transform":[{"filter":"datum.p==='J'"}],
   "encoding":{"x":{"field":"x","type":"quantitative","scale":{"domain":[-0.013,0.51],"nice":false},"axis":{"title":"Genetic association with Lp-PLA2"}},
    "y":{"field":"y","type":"quantitative","scale":{"domain":[-2.1,1.11],"nice":false},"axis":{"title":"Genetic association with HV"}},
    "color":{"field":"c","type":"nominal"}},
   "layer":[{"mark":"errorbar","encoding":{"xError":{"field":"xe"}}},{"mark":"errorbar","encoding":{"yError":{"field":"ye"}}},
    {"mark":"point","encoding":{"size":{"field":"s","type":"quantitative","scale":{"domain":[0.82,1],"range":[1,50]}}}}]},
  {"width":144,"height":95,"title":{"text":"CRP","dx":-6},"transform":[{"filter":"datum.p==='K'"}],
   "encoding":{"x":{"field":"x","type":"quantitative","scale":{"domain":[-0.013,0.51],"nice":false},"axis":{"title":"Genetic association with CRP"}},
    "y":{"field":"y","type":"quantitative","scale":{"domain":[-2.1,1.11],"nice":false},"axis":{"title":"Genetic association with AD"}},
    "color":{"field":"c","type":"nominal"}},
   "layer":[{"mark":"errorbar","encoding":{"xError":{"field":"xe"}}},{"mark":"errorbar","encoding":{"yError":{"field":"ye"}}},
    {"mark":"point","encoding":{"size":{"field":"s","type":"quantitative","scale":{"domain":[0.82,1],"range":[1,50]}}}}]}
 ]}
]
}
